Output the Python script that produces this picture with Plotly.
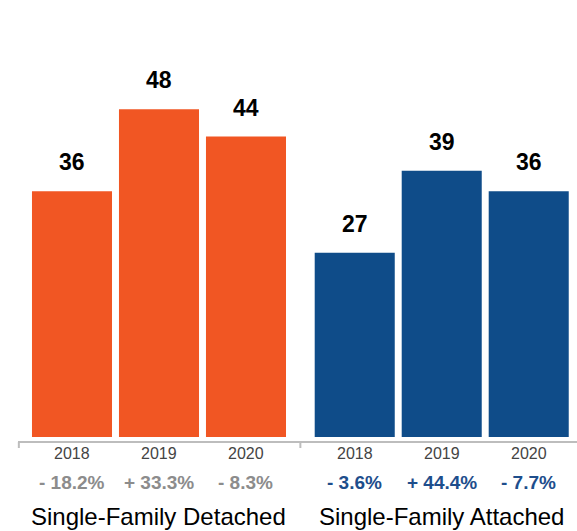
import plotly.graph_objects as go

groups = ["Single-Family Detached", "Single-Family Attached"]
years = ["2018", "2019", "2020"]
detached = [36, 48, 44]
attached = [27, 39, 36]
detached_chg = ["- 18.2%", "+ 33.3%", "- 8.3%"]
attached_chg = ["- 3.6%", "+ 44.4%", "- 7.7%"]

ORANGE = "#F15623"
BLUE = "#0F4C89"
GRAY_TXT = "#8C8C8C"
BLUE_TXT = "#1E4E8C"
FONT = "Liberation Sans, Arial, Helvetica, sans-serif"

group_offset = 3.25  # second group starts after a wider gap
x1 = [i for i in range(len(years))]
x2 = [i + group_offset for i in range(len(years))]

fig = go.Figure()
fig.add_trace(go.Bar(x=x1, y=detached, marker=dict(color=ORANGE, line=dict(width=0)), width=0.92, hoverinfo="skip"))
fig.add_trace(go.Bar(x=x2, y=attached, marker=dict(color=BLUE, line=dict(width=0)), width=0.92, hoverinfo="skip"))

ann = []
for xs, vals, chg, ctxt in [(x1, detached, detached_chg, GRAY_TXT), (x2, attached, attached_chg, BLUE_TXT)]:
    for x, v, c, yr in zip(xs, vals, chg, years):
        ann.append(dict(x=x, y=v, xref="x", yref="y", text=f"<b>{v}</b>", showarrow=False,
                        yanchor="bottom", yshift=14, font=dict(size=23, color="#000", family=FONT)))
        ann.append(dict(x=x, y=0, xref="x", yref="paper", text=yr, showarrow=False,
                        yanchor="middle", yshift=-16, font=dict(size=16, color="#444", family=FONT)))
        ann.append(dict(x=x, y=0, xref="x", yref="paper", text=f"<b>{c}</b>", showarrow=False,
                        yanchor="middle", yshift=-45, font=dict(size=19, color=ctxt, family=FONT)))
for xc, g in [(x1[1], groups[0]), (x2[1], groups[1])]:
    ann.append(dict(x=xc, y=0, xref="x", yref="paper", text=g, showarrow=False,
                    yanchor="middle", yshift=-79, font=dict(size=24, color="#000", family=FONT)))

plot_h = 437
line_y = -5 / plot_h
tick_y = -11 / plot_h
sep = (x1[-1] + x2[0]) / 2
shapes = [
    dict(type="line", xref="paper", yref="paper", x0=0, x1=1, y0=line_y, y1=line_y,
         line=dict(color="#BDBDBD", width=2)),
    dict(type="line", xref="paper", yref="paper", x0=0.0015, x1=0.0015, y0=line_y, y1=tick_y,
         line=dict(color="#BDBDBD", width=2)),
    dict(type="line", xref="x", yref="paper", x0=sep, x1=sep, y0=line_y, y1=tick_y,
         line=dict(color="#BDBDBD", width=2)),
]

fig.update_layout(
    width=577, height=531,
    margin=dict(l=18, r=0, t=0, b=531 - plot_h),
    paper_bgcolor="white", plot_bgcolor="white",
    showlegend=False, barmode="overlay",
    xaxis=dict(range=[-0.6207, 5.805], showgrid=False, zeroline=False, showticklabels=False, showline=False, fixedrange=True),
    yaxis=dict(range=[0, 64], showgrid=False, zeroline=False, showticklabels=False, showline=False, fixedrange=True),
    annotations=ann, shapes=shapes,
)

fig.write_html("out.html")
